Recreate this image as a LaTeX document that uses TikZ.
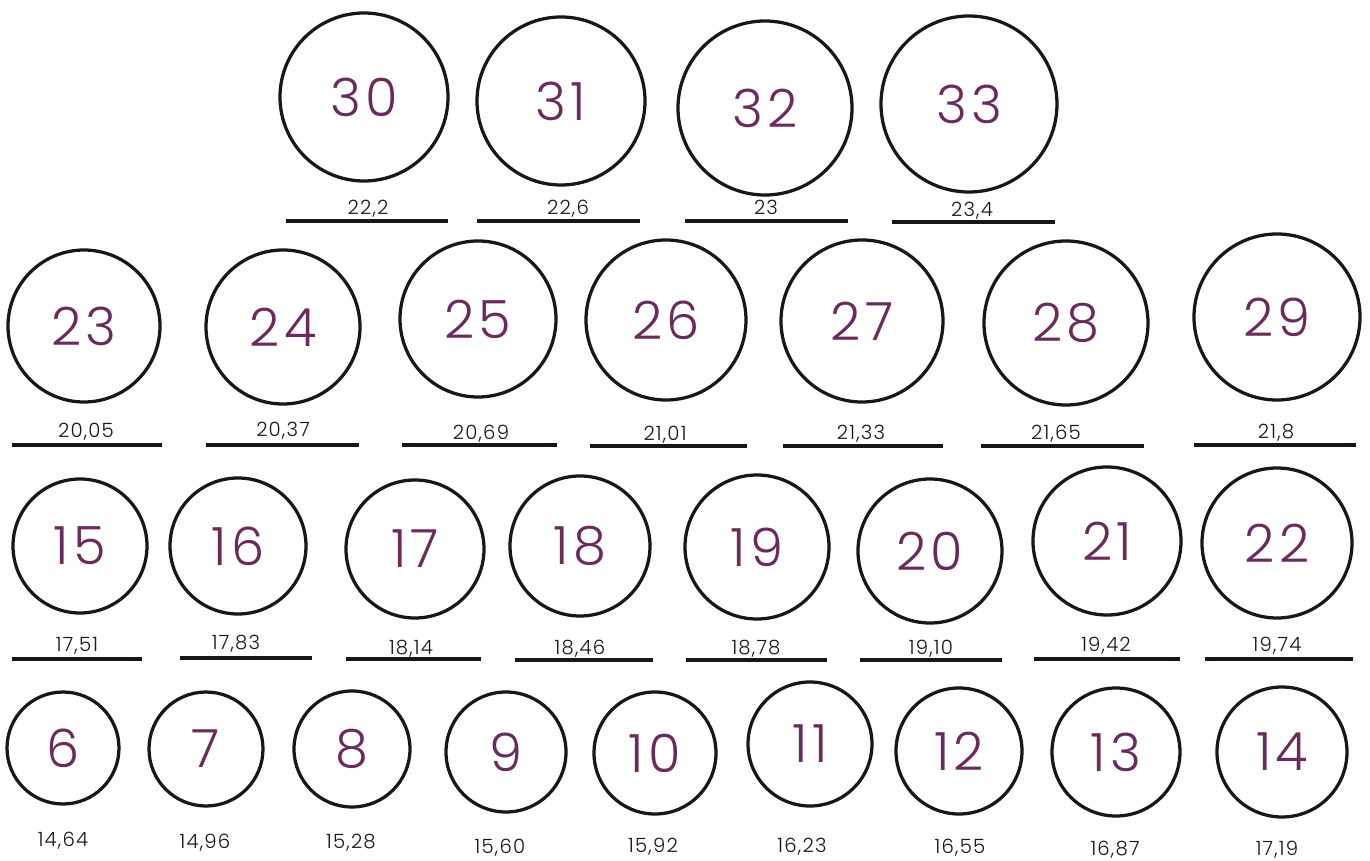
\documentclass[tikz,border=0pt]{standalone}
\usepackage{fontspec}
\setmainfont{Poppins}[UprightFont=*-Light]
\newfontfamily\numfont{Poppins}[UprightFont=*-Light, LetterSpace=8]
\newfontfamily\labfont{Poppins}[UprightFont=*-Light, LetterSpace=6]
\definecolor{numpurple}{HTML}{6B2A5C}
\definecolor{ringblack}{HTML}{1A1516}
\tikzset{
  ring/.style={circle, draw=ringblack, line width=0.065cm, inner sep=0pt, text=numpurple, font=\numfont\fontsize{30}{31}\selectfont},
  sizelabel/.style={inner sep=0pt, text=ringblack, font=\labfont\fontsize{11.2}{12}\selectfont, anchor=base},
  rule/.style={draw=ringblack, line width=0.075cm}
}
\begin{document}
\begin{tikzpicture}[x=0.02cm,y=-0.02cm]
\useasboundingbox (0,0) rectangle (1370,861);
% circles: name/x/y/r
\foreach \n/\x/\y/\r in {30/364/97/84, 31/561/101/84, 32/765/108/87, 33/969/104/88,
  23/84/326/76, 24/283/327/77, 25/478/319/78, 26/666/320/80, 27/862/321/81, 28/1066/323/82, 29/1277/317/83,
  15/80/546/67, 16/238/546/68, 17/415/549/69, 18/580/546/70, 19/757/547/72, 20/930/551/72, 21/1107/541/74, 22/1277/543/75,
  6/63/748/56, 7/206/749/57, 8/352/749/58, 9/506/752/60, 10/655/753/61, 11/810/744/62, 12/959/751/63, 13/1116/752/64, 14/1282/752/65}
  {\node[ring, minimum size={2*\r*0.02cm}] (c\n) at (\x,\y) {\n};}
% labels with rules: name/x/baseline y/text/x1/x2/line y
\foreach \n/\x/\y/\t/\a/\b/\ly in {
  30/368/215/{22,2}/286/448/221, 31/568/215/{22,6}/477/640/221, 32/766/215/{23}/685/848/221, 33/972/217/{23,4}/892/1055/222,
  23/86/438/{20,05}/12/162/445, 24/283/437/{20,37}/206/359/445, 25/481/440/{20,69}/402/557/445, 26/665/441/{21,01}/590/747/446,
  27/861/440/{21,33}/783/943/446, 28/1056/440/{21,65}/981/1144/446, 29/1276/439/{21,8}/1194/1356/445,
  15/77/651/{17,51}/12/142/659, 16/236/649/{17,83}/180/312/658, 17/411/654/{18,14}/346/481/659, 18/580/654/{18,46}/515/653/660,
  19/756/654/{18,78}/686/827/660, 20/931/654/{19,10}/860/1002/660, 21/1106/651/{19,42}/1034/1180/659, 22/1277/651/{19,74}/1205/1353/659}
  {\node[sizelabel] (l\n) at (\x,\y) {\t};
   \draw[rule] (\a,\ly) -- (\b,\ly);}
% bottom labels, no rules
\foreach \n/\x/\y/\t in {6/63/846/{14,64}, 7/205/848/{14,96}, 8/351/848/{15,28}, 9/500/853/{15,60}, 10/653/852/{15,92},
  11/802/852/{16,23}, 12/960/853/{16,55}, 13/1115/855/{16,87}, 14/1277/855/{17,19}}
  {\node[sizelabel] (l\n) at (\x,\y) {\t};}
\end{tikzpicture}
\end{document}
